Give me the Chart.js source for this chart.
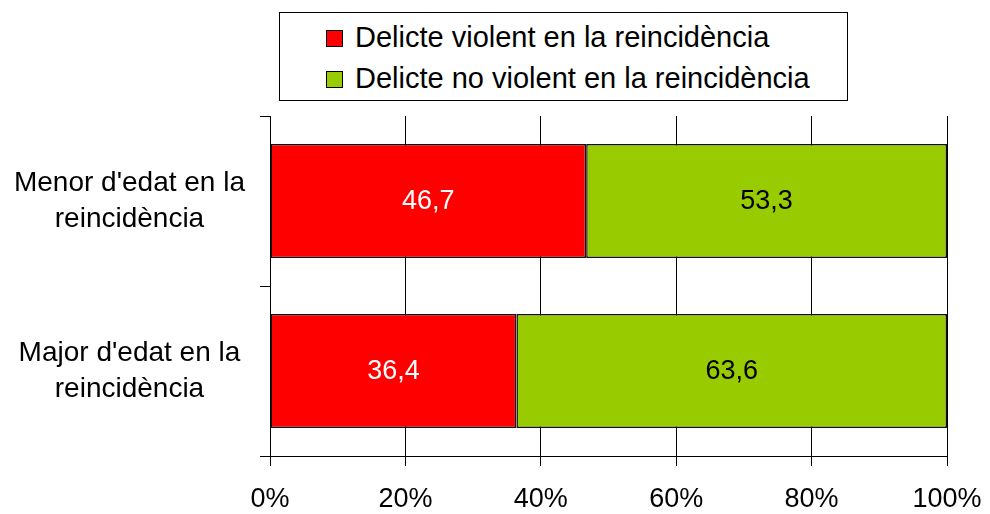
<!DOCTYPE html>
<html>
<head>
<meta charset="utf-8">
<script src="https://cdn.jsdelivr.net/npm/chart.js@4"></script>
<style>
  body { margin: 0; background: #fff; }
  #wrap { position: relative; width: 990px; height: 514px; }
  #legend {
    position: absolute; left: 279px; top: 12px; width: 567px; height: 87px;
    border: 1px solid #000; background: #fff;
    font-family: "Liberation Sans", Arial, sans-serif; font-size: 29px; color: #000;
  }
  .item { position: absolute; left: 46px; height: 34px; line-height: 34px; white-space: nowrap; }
  .box { display: inline-block; width: 15px; height: 15px; border: 1px solid #000; vertical-align: 0px; margin-right: 12px; }
</style>
</head>
<body>
<div id="wrap">
  <canvas id="chart" width="990" height="514"></canvas>
  <div id="legend"></div>
</div>
<script>
const categories = [["Menor d'edat en la", "reincidència"], ["Major d'edat en la", "reincidència"]];
const seriesNames = ["Delicte violent en la reincidència", "Delicte no violent en la reincidència"];
const violent = [46.7, 36.4];
const nonViolent = [53.3, 63.6];
const xTicks = [0, 20, 40, 60, 80, 100];
const colors = ["#FF0000", "#99CC00"];
const labelColors = ["#FFFFFF", "#000000"];

// legend drawn as html box
const legend = document.getElementById('legend');
seriesNames.forEach((name, i) => {
    const d = document.createElement('div');
    d.className = 'item';
    d.style.top = (i === 0 ? 7 : 48) + 'px';
    d.innerHTML = '<span class="box" style="background:' + colors[i] + '"></span>' + name;
    legend.appendChild(d);
});

const valueLabels = {
    id: 'valueLabels',
    afterDatasetsDraw(chart) {
        const ctx = chart.ctx;
        ctx.save();
        ctx.font = '27px "Liberation Sans", Arial, sans-serif';
        ctx.textAlign = 'center';
        ctx.textBaseline = 'middle';
        chart.data.datasets.forEach((ds, i) => {
            chart.getDatasetMeta(i).data.forEach((bar, j) => {
                const x = (bar.x + bar.base) / 2;
                ctx.fillStyle = labelColors[i];
                ctx.fillText(ds.data[j].toFixed(1).replace('.', ','), x, bar.y + 1);
            });
        });
        ctx.restore();
    }
};

const font = { family: '"Liberation Sans", Arial, sans-serif' };

new Chart(document.getElementById('chart'), {
    type: 'bar',
    data: {
        labels: categories,
        datasets: [
            { label: seriesNames[0], data: violent, backgroundColor: colors[0] },
            { label: seriesNames[1], data: nonViolent, backgroundColor: colors[1] }
        ].map(d => Object.assign(d, {
            borderColor: '#111', borderWidth: 1.5, borderSkipped: false,
            barPercentage: 0.67, categoryPercentage: 1
        }))
    },
    options: {
        indexAxis: 'y',
        responsive: false,
        animation: false,
        layout: { padding: { top: 116, right: 43, left: 0, bottom: 0 } },
        plugins: { legend: { display: false }, tooltip: { enabled: false } },
        scales: {
            x: {
                stacked: true, min: 0, max: 100,
                afterBuildTicks: s => { s.ticks = xTicks.map(v => ({ value: v })); },
                afterFit: s => { s.height = 58; s.paddingLeft = 0; s.paddingRight = 0; },
                grid: { color: '#000', lineWidth: 1, tickLength: 10 },
                border: { color: '#000', width: 1 },
                ticks: { color: '#000', padding: 17, maxRotation: 0, font: Object.assign({ size: 27 }, font), callback: v => v + '%' }
            },
            y: {
                stacked: true,
                afterFit: s => { s.width = 270; },
                grid: { offset: true, drawOnChartArea: false, color: '#000', tickLength: 10 },
                border: { color: '#000', width: 1 },
                ticks: { color: '#000', padding: 15, crossAlign: 'center', font: Object.assign({ size: 28, lineHeight: 1.3 }, font) }
            }
        }
    },
    plugins: [valueLabels]
});
</script>
</body>
</html>
